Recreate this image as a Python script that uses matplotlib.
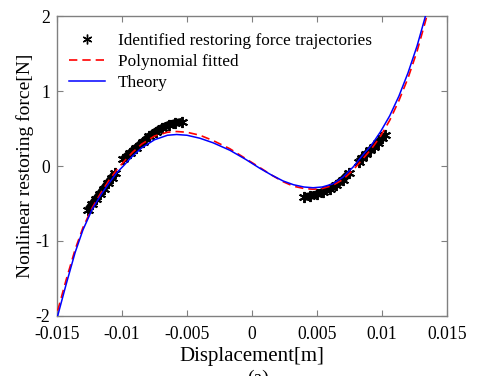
import matplotlib
matplotlib.use("Agg")
import matplotlib.pyplot as plt

# curvas (desplazamiento [m], fuerza [N])
x_curva = [-0.01495, -0.0143, -0.0136, -0.0130, -0.0123, -0.0116, -0.0110, -0.0104,
           -0.0099, -0.0092, -0.0085, -0.0075, -0.0065, -0.0058, -0.0050, -0.0040,
           -0.0030, -0.0017, -0.0005, 0.0006, 0.0015, 0.0024, 0.0032, 0.0040,
           0.0047, 0.0054, 0.0062, 0.0070, 0.0078, 0.0085, 0.0092, 0.0099,
           0.0106, 0.0113, 0.0120, 0.0127, 0.0133, 0.0135]
y_teoria = [-2.00, -1.58, -1.15, -0.85, -0.58, -0.38, -0.23, -0.09,
            0.00, 0.13, 0.24, 0.35, 0.41, 0.42, 0.41, 0.37,
            0.31, 0.21, 0.09, -0.03, -0.12, -0.20, -0.25, -0.28,
            -0.29, -0.28, -0.24, -0.15, -0.01, 0.14, 0.28, 0.46,
            0.67, 0.93, 1.24, 1.60, 1.97, 2.10]
y_poli = [-1.93, -1.52, -1.11, -0.82, -0.56, -0.35, -0.19, -0.05,
          0.05, 0.18, 0.29, 0.40, 0.45, 0.46, 0.45, 0.41,
          0.34, 0.23, 0.10, -0.02, -0.12, -0.21, -0.27, -0.30,
          -0.31, -0.30, -0.26, -0.18, -0.05, 0.09, 0.23, 0.40,
          0.61, 0.87, 1.17, 1.53, 1.90, 2.03]

# trayectorias identificadas (cuatro tramos)
tramos_x = [
    [-0.0126, -0.0123, -0.0120, -0.0117, -0.0114, -0.0111, -0.0108, -0.0105],
    [-0.0099, -0.0094, -0.0089, -0.0084, -0.0079, -0.0074, -0.0069, -0.0064, -0.0059, -0.0054],
    [0.0040, 0.0045, 0.0050, 0.0055, 0.0060, 0.0065, 0.0070, 0.0075],
    [0.0082, 0.0085, 0.0088, 0.0091, 0.0094, 0.0097, 0.0100, 0.0102],
]
tramos_y = [
    [-0.58, -0.51, -0.44, -0.37, -0.30, -0.23, -0.16, -0.09],
    [0.09, 0.17, 0.245, 0.32, 0.395, 0.46, 0.51, 0.55, 0.575, 0.59],
    [-0.415, -0.40, -0.375, -0.34, -0.30, -0.25, -0.18, -0.09],
    [0.06, 0.11, 0.16, 0.21, 0.26, 0.31, 0.37, 0.41],
]

x_ticks = [-0.015, -0.01, -0.005, 0, 0.005, 0.01, 0.015]
x_etiq = ["-0.015", "-0.01", "-0.005", "0", "0.005", "0.01", "0.015"]
y_ticks = [-2, -1, 0, 1, 2]
y_etiq = ["-2", "-1", "0", "1", "2"]

plt.rcParams["font.family"] = ["Liberation Serif", "DejaVu Serif"]

fig = plt.figure(figsize=(4.81, 3.76), dpi=100)
ax = fig.add_axes([0.1185, 0.1596, 0.8107, 0.7978])

asterisco = (6, 2, 0)
for i, (tx, ty) in enumerate(zip(tramos_x, tramos_y)):
    ax.plot(tx, ty, "-", color="black", lw=5.5, solid_capstyle="butt", zorder=2)
    ax.plot(tx, ty, linestyle="none", marker=asterisco, color="black", ms=8,
            mew=1.4, zorder=2,
            label="Identified restoring force trajectories" if i == 0 else None)

ax.plot(x_curva, y_poli, "--", color="#ff0000", lw=1.2, dashes=(5, 3),
        label="Polynomial fitted", zorder=3)
ax.plot(x_curva, y_teoria, "-", color="#0000ff", lw=1.1, label="Theory", zorder=4)

ax.set_xlim(-0.015, 0.015)
ax.set_ylim(-2, 2)
ax.set_xticks(x_ticks)
ax.set_xticklabels(x_etiq)
ax.set_yticks(y_ticks)
ax.set_yticklabels(y_etiq)
ax.tick_params(direction="in", top=True, right=True, length=4, width=0.8,
               color="#808080", labelsize=12.7, pad=5)
ax.tick_params(axis="x", pad=7)
for s in ax.spines.values():
    s.set_color("#808080")
    s.set_linewidth(1.0)

ax.set_xlabel("Displacement[m]", fontsize=15, labelpad=3)
ax.set_ylabel("Nonlinear restoring force[N]", fontsize=14, labelpad=1)

leg = ax.legend(loc="upper left", bbox_to_anchor=(-0.013, 1.0), frameon=False,
                fontsize=12.4, handlelength=2.1, handletextpad=0.75,
                labelspacing=0.28, borderaxespad=0.6, borderpad=0.4)
leg.legend_handles[0].set_markersize(7)
leg.legend_handles[0].set_markeredgewidth(1.0)

fig.text(0.536, 0.017, "(a)", fontsize=14, ha="center", va="top")

fig.savefig("out.png", dpi=100)
